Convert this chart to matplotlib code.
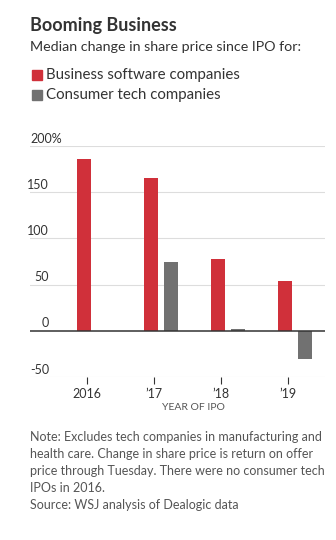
import matplotlib
matplotlib.use('Agg')
import matplotlib.pyplot as plt
import matplotlib.transforms as mtransforms

plt.rcParams['font.family'] = ['Lato', 'DejaVu Sans']

W, H = 336, 540

# data
years = ['2016', '\u201917', '\u201918', '\u201919']
software = [186, 165, 78, 54]
consumer = [None, 75, 2, -30]
yticks = [-50, 0, 50, 100, 150, 200]

RED = '#d0303a'
GRAY = '#717171'
TXT = '#333333'


def fx(px):
    return px / W


def fy(py):
    return 1 - py / H


fig = plt.figure(figsize=(W / 100, H / 100), dpi=100)
ax = fig.add_axes([fx(30), fy(377), fx(325) - fx(30), fy(146) - fy(377)])

n = len(years)
xs = list(range(n))
for i in xs:
    ax.bar(i - 0.15, software[i], width=0.2, color=RED, zorder=3)
    if consumer[i] is not None:
        ax.bar(i + 0.15, consumer[i], width=0.2, color=GRAY, zorder=3)

ax.set_xlim(-0.955, 3.45)
ax.set_ylim(-50, 200)

for v in yticks:
    if v == 0:
        ax.axhline(v, color='#333333', lw=1.1, zorder=4)
    else:
        ax.axhline(v, color='#dddddd', lw=0.8, zorder=1)

# y labels sit above their gridlines
trans = mtransforms.blended_transform_factory(ax.transAxes, ax.transData)
lx = (49 - 30) / 295
for v in yticks:
    if v == yticks[-1]:
        ax.text(0.003, v + 1.6, '%d%%' % v, transform=trans, ha='left',
                va='bottom', fontsize=9, color=TXT)
    else:
        ax.text(lx, v + 1.6, str(v), transform=trans, ha='right',
                va='bottom', fontsize=9, color=TXT)

ax.set_yticks([])
ax.set_xticks([i - 0.1 for i in xs])
ax.set_xticklabels(years, fontsize=9, color=TXT)
ax.tick_params(axis='x', length=5, width=0.8, color='#333333', pad=3)
for s in ax.spines.values():
    s.set_visible(False)

fig.text(fx(193), fy(407), 'YEAR OF IPO', ha='center', va='center',
         fontsize=7.5, color='#555555')

# title and legend
fig.text(fx(30), fy(25), 'Booming Business', fontsize=13, fontweight='bold',
         color='#333333', ha='left', va='center')
fig.text(fx(30), fy(47), 'Median change in share price since IPO for:',
         fontsize=10.3, color='#333333', ha='left', va='center')
fig.patches.append(plt.Rectangle((fx(32), fy(80)), fx(10), fy(70) - fy(80),
                                 transform=fig.transFigure, color=RED))
fig.text(fx(46), fy(75), 'Business software companies', fontsize=10.8,
         color='#333333', ha='left', va='center')
fig.patches.append(plt.Rectangle((fx(32), fy(100)), fx(10), fy(90) - fy(100),
                                 transform=fig.transFigure, color=GRAY))
fig.text(fx(46), fy(95), 'Consumer tech companies', fontsize=10.8,
         color='#333333', ha='left', va='center')

note = ['Note: Excludes tech companies in manufacturing and',
        'health care. Change in share price is return on offer',
        'price through Tuesday. There were no consumer tech',
        'IPOs in 2016.',
        'Source: WSJ analysis of Dealogic data']
for k, line in enumerate(note):
    fig.text(fx(30), fy(437 + 17 * k), line, fontsize=9, color='#555555',
             ha='left', va='center')

fig.savefig('out.png', dpi=100)
